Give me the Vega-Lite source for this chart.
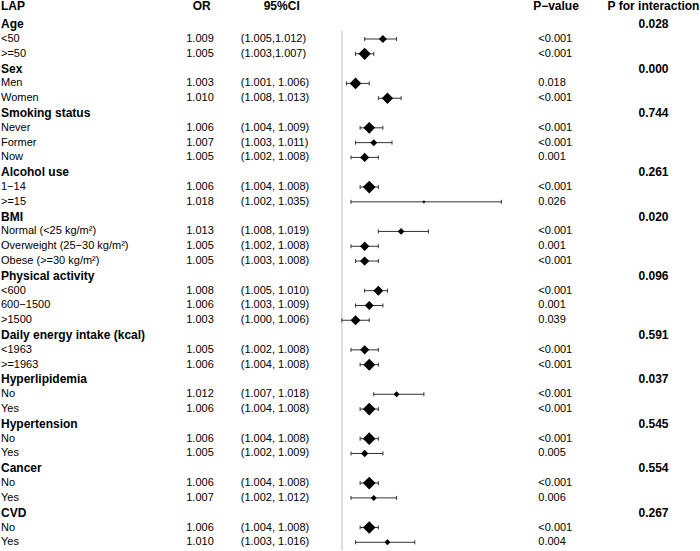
{
  "$schema": "https://vega.github.io/schema/vega-lite/v6.json",
  "width": 700,
  "height": 551,
  "autosize": {"type": "fit", "contains": "padding"},
  "padding": 0,
  "background": "white",
  "config": {"view": {"stroke": null}, "text": {"font": "Liberation Sans"}, "axis": {"disable": true}},
  "data": {"values": [
    {"row": 1, "label": "Age", "type": "group", "pint": "0.028"},
    {"row": 2, "label": "<50", "type": "item", "or": 1.009, "lo": 1.005, "hi": 1.012, "ortext": "1.009", "ci": "(1.005,1.012)", "p": "<0.001", "weight": 64},
    {"row": 3, "label": ">=50", "type": "item", "or": 1.005, "lo": 1.003, "hi": 1.007, "ortext": "1.005", "ci": "(1.003,1.007)", "p": "<0.001", "weight": 151},
    {"row": 4, "label": "Sex", "type": "group", "pint": "0.000"},
    {"row": 5, "label": "Men", "type": "item", "or": 1.003, "lo": 1.001, "hi": 1.006, "ortext": "1.003", "ci": "(1.001, 1.006)", "p": "0.018", "weight": 137},
    {"row": 6, "label": "Women", "type": "item", "or": 1.010, "lo": 1.008, "hi": 1.013, "ortext": "1.010", "ci": "(1.008, 1.013)", "p": "<0.001", "weight": 128},
    {"row": 7, "label": "Smoking status", "type": "group", "pint": "0.744"},
    {"row": 8, "label": "Never", "type": "item", "or": 1.006, "lo": 1.004, "hi": 1.009, "ortext": "1.006", "ci": "(1.004, 1.009)", "p": "<0.001", "weight": 137},
    {"row": 9, "label": "Former", "type": "item", "or": 1.007, "lo": 1.003, "hi": 1.011, "ortext": "1.007", "ci": "(1.003, 1.011)", "p": "<0.001", "weight": 49},
    {"row": 10, "label": "Now", "type": "item", "or": 1.005, "lo": 1.002, "hi": 1.008, "ortext": "1.005", "ci": "(1.002, 1.008)", "p": "0.001", "weight": 86},
    {"row": 11, "label": "Alcohol use", "type": "group", "pint": "0.261"},
    {"row": 12, "label": "1−14", "type": "item", "or": 1.006, "lo": 1.004, "hi": 1.008, "ortext": "1.006", "ci": "(1.004, 1.008)", "p": "<0.001", "weight": 161},
    {"row": 13, "label": ">=15", "type": "item", "or": 1.018, "lo": 1.002, "hi": 1.035, "ortext": "1.018", "ci": "(1.002, 1.035)", "p": "0.026", "weight": 10},
    {"row": 14, "label": "BMI", "type": "group", "pint": "0.020"},
    {"row": 15, "label": "Normal (<25 kg/m²)", "type": "item", "or": 1.013, "lo": 1.008, "hi": 1.019, "ortext": "1.013", "ci": "(1.008, 1.019)", "p": "<0.001", "weight": 45},
    {"row": 16, "label": "Overweight (25−30 kg/m²)", "type": "item", "or": 1.005, "lo": 1.002, "hi": 1.008, "ortext": "1.005", "ci": "(1.002, 1.008)", "p": "0.001", "weight": 86},
    {"row": 17, "label": "Obese (>=30 kg/m²)", "type": "item", "or": 1.005, "lo": 1.003, "hi": 1.008, "ortext": "1.005", "ci": "(1.003, 1.008)", "p": "<0.001", "weight": 86},
    {"row": 18, "label": "Physical activity", "type": "group", "pint": "0.096"},
    {"row": 19, "label": "<600", "type": "item", "or": 1.008, "lo": 1.005, "hi": 1.010, "ortext": "1.008", "ci": "(1.005, 1.010)", "p": "<0.001", "weight": 100},
    {"row": 20, "label": "600−1500", "type": "item", "or": 1.006, "lo": 1.003, "hi": 1.009, "ortext": "1.006", "ci": "(1.003, 1.009)", "p": "0.001", "weight": 81},
    {"row": 21, "label": ">1500", "type": "item", "or": 1.003, "lo": 1.000, "hi": 1.006, "ortext": "1.003", "ci": "(1.000, 1.006)", "p": "0.039", "weight": 100},
    {"row": 22, "label": "Daily energy intake (kcal)", "type": "group", "pint": "0.591"},
    {"row": 23, "label": "<1963", "type": "item", "or": 1.005, "lo": 1.002, "hi": 1.008, "ortext": "1.005", "ci": "(1.002, 1.008)", "p": "<0.001", "weight": 86},
    {"row": 24, "label": ">=1963", "type": "item", "or": 1.006, "lo": 1.004, "hi": 1.008, "ortext": "1.006", "ci": "(1.004, 1.008)", "p": "<0.001", "weight": 144},
    {"row": 25, "label": "Hyperlipidemia", "type": "group", "pint": "0.037"},
    {"row": 26, "label": "No", "type": "item", "or": 1.012, "lo": 1.007, "hi": 1.018, "ortext": "1.012", "ci": "(1.007, 1.018)", "p": "<0.001", "weight": 36},
    {"row": 27, "label": "Yes", "type": "item", "or": 1.006, "lo": 1.004, "hi": 1.008, "ortext": "1.006", "ci": "(1.004, 1.008)", "p": "<0.001", "weight": 161},
    {"row": 28, "label": "Hypertension", "type": "group", "pint": "0.545"},
    {"row": 29, "label": "No", "type": "item", "or": 1.006, "lo": 1.004, "hi": 1.008, "ortext": "1.006", "ci": "(1.004, 1.008)", "p": "<0.001", "weight": 161},
    {"row": 30, "label": "Yes", "type": "item", "or": 1.005, "lo": 1.002, "hi": 1.009, "ortext": "1.005", "ci": "(1.002, 1.009)", "p": "0.005", "weight": 53},
    {"row": 31, "label": "Cancer", "type": "group", "pint": "0.554"},
    {"row": 32, "label": "No", "type": "item", "or": 1.006, "lo": 1.004, "hi": 1.008, "ortext": "1.006", "ci": "(1.004, 1.008)", "p": "<0.001", "weight": 161},
    {"row": 33, "label": "Yes", "type": "item", "or": 1.007, "lo": 1.002, "hi": 1.012, "ortext": "1.007", "ci": "(1.002, 1.012)", "p": "0.006", "weight": 36},
    {"row": 34, "label": "CVD", "type": "group", "pint": "0.267"},
    {"row": 35, "label": "No", "type": "item", "or": 1.006, "lo": 1.004, "hi": 1.008, "ortext": "1.006", "ci": "(1.004, 1.008)", "p": "<0.001", "weight": 161},
    {"row": 36, "label": "Yes", "type": "item", "or": 1.010, "lo": 1.003, "hi": 1.016, "ortext": "1.010", "ci": "(1.003, 1.016)", "p": "0.004", "weight": 36}
  ]},
  "layer": [
    {
      "data": {"values": [{"ref": 1}]},
      "mark": {"type": "rule", "color": "#d4d4d4", "strokeWidth": 1.5},
      "encoding": {
        "x": {"field": "ref", "type": "quantitative", "scale": {"domain": [0.92495, 1.07861], "nice": false, "zero": false}, "axis": null},
        "y": {"datum": 1.45, "type": "quantitative", "scale": {"domain": [-0.568, 36.52], "reverse": true, "nice": false, "zero": false}, "axis": null},
        "y2": {"datum": 36.52}
      }
    },
    {
      "transform": [{"filter": "datum.type === 'item'"}],
      "mark": {"type": "rule", "color": "#333333", "strokeWidth": 1},
      "encoding": {
        "x": {"field": "lo", "type": "quantitative", "axis": null},
        "x2": {"field": "hi"},
        "y": {"field": "row", "type": "quantitative", "axis": null}
      }
    },
    {
      "transform": [{"filter": "datum.type === 'item'"}],
      "mark": {"type": "rule", "color": "#333333", "strokeWidth": 1, "yOffset": -2, "y2Offset": 2},
      "encoding": {
        "x": {"field": "lo", "type": "quantitative", "axis": null},
        "y": {"field": "row", "type": "quantitative", "axis": null},
        "y2": {"field": "row"}
      }
    },
    {
      "transform": [{"filter": "datum.type === 'item'"}],
      "mark": {"type": "rule", "color": "#333333", "strokeWidth": 1, "yOffset": -2, "y2Offset": 2},
      "encoding": {
        "x": {"field": "hi", "type": "quantitative", "axis": null},
        "y": {"field": "row", "type": "quantitative", "axis": null},
        "y2": {"field": "row"}
      }
    },
    {
      "transform": [{"filter": "datum.type === 'item'"}],
      "mark": {"type": "point", "shape": "diamond", "filled": true, "color": "black", "opacity": 1},
      "encoding": {
        "x": {"field": "or", "type": "quantitative", "axis": null},
        "y": {"field": "row", "type": "quantitative", "axis": null},
        "size": {"field": "weight", "type": "quantitative", "scale": {"domain": [0, 170], "range": [0, 170], "zero": true}, "legend": null}
      }
    },
    {
      "transform": [{"filter": "datum.type === 'group'"}],
      "mark": {"type": "text", "align": "left", "baseline": "middle", "fontSize": 12, "fontWeight": "bold", "color": "black"},
      "encoding": {"x": {"datum": 0.92517, "type": "quantitative"}, "y": {"field": "row", "type": "quantitative"}, "text": {"field": "label"}}
    },
    {
      "transform": [{"filter": "datum.type === 'item'"}],
      "mark": {"type": "text", "align": "left", "baseline": "middle", "fontSize": 11, "color": "black"},
      "encoding": {"x": {"datum": 0.92517, "type": "quantitative"}, "y": {"field": "row", "type": "quantitative"}, "text": {"field": "label"}}
    },
    {
      "transform": [{"filter": "datum.type === 'item'"}],
      "mark": {"type": "text", "align": "center", "baseline": "middle", "fontSize": 11, "color": "black"},
      "encoding": {"x": {"datum": 0.96885, "type": "quantitative"}, "y": {"field": "row", "type": "quantitative"}, "text": {"field": "ortext"}}
    },
    {
      "transform": [{"filter": "datum.type === 'item'"}],
      "mark": {"type": "text", "align": "left", "baseline": "middle", "fontSize": 11, "color": "black"},
      "encoding": {"x": {"datum": 0.97779, "type": "quantitative"}, "y": {"field": "row", "type": "quantitative"}, "text": {"field": "ci"}}
    },
    {
      "transform": [{"filter": "datum.type === 'item'"}],
      "mark": {"type": "text", "align": "left", "baseline": "middle", "fontSize": 11, "color": "black"},
      "encoding": {"x": {"datum": 1.04311, "type": "quantitative"}, "y": {"field": "row", "type": "quantitative"}, "text": {"field": "p"}}
    },
    {
      "transform": [{"filter": "datum.type === 'group'"}],
      "mark": {"type": "text", "align": "center", "baseline": "middle", "fontSize": 12, "fontWeight": "bold", "color": "black"},
      "encoding": {"x": {"datum": 1.0684, "type": "quantitative"}, "y": {"field": "row", "type": "quantitative"}, "text": {"field": "pint"}}
    },
    {
      "data": {"values": [{"head": "LAP"}]},
      "mark": {"type": "text", "align": "left", "baseline": "middle", "fontSize": 12, "fontWeight": "bold", "color": "black"},
      "encoding": {"x": {"datum": 0.92517, "type": "quantitative"}, "y": {"datum": -0.23, "type": "quantitative"}, "text": {"field": "head"}}
    },
    {
      "data": {"values": [{"head": "OR"}]},
      "mark": {"type": "text", "align": "center", "baseline": "middle", "fontSize": 12, "fontWeight": "bold", "color": "black"},
      "encoding": {"x": {"datum": 0.96922, "type": "quantitative"}, "y": {"datum": -0.23, "type": "quantitative"}, "text": {"field": "head"}}
    },
    {
      "data": {"values": [{"head": "95%CI"}]},
      "mark": {"type": "text", "align": "center", "baseline": "middle", "fontSize": 12, "fontWeight": "bold", "color": "black"},
      "encoding": {"x": {"datum": 0.98679, "type": "quantitative"}, "y": {"datum": -0.23, "type": "quantitative"}, "text": {"field": "head"}}
    },
    {
      "data": {"values": [{"head": "P−value"}]},
      "mark": {"type": "text", "align": "center", "baseline": "middle", "fontSize": 12, "fontWeight": "bold", "color": "black"},
      "encoding": {"x": {"datum": 1.047, "type": "quantitative"}, "y": {"datum": -0.23, "type": "quantitative"}, "text": {"field": "head"}}
    },
    {
      "data": {"values": [{"head": "P for interaction"}]},
      "mark": {"type": "text", "align": "center", "baseline": "middle", "fontSize": 12, "fontWeight": "bold", "color": "black"},
      "encoding": {"x": {"datum": 1.0684, "type": "quantitative"}, "y": {"datum": -0.23, "type": "quantitative"}, "text": {"field": "head"}}
    }
  ]
}
